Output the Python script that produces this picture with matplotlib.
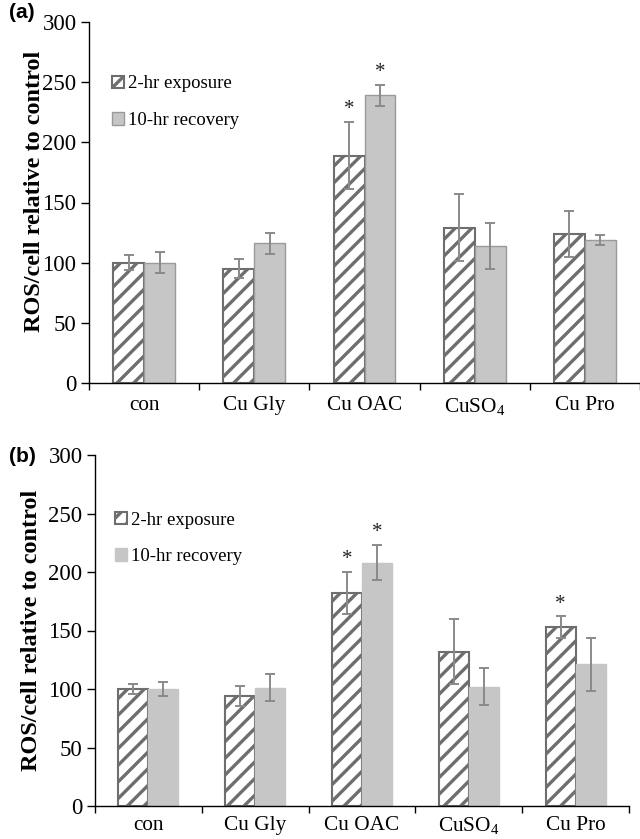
import matplotlib
matplotlib.use("Agg")
import matplotlib.pyplot as plt
import numpy as np

categories = ["con", "Cu Gly", "Cu OAC", "CuSO$_\\mathrm{4}$", "Cu Pro"]
series_names = ["2-hr exposure", "10-hr recovery"]

# Panel (a)
a_exp = [100, 95, 189, 129, 124]
a_exp_err = [6, 8, 28, 28, 19]
a_rec = [100, 116, 239, 114, 119]
a_rec_err = [9, 8.5, 9, 19, 4]
a_exp_sig = [False, False, True, False, False]
a_rec_sig = [False, False, True, False, False]

# Panel (b)
b_exp = [100, 94, 182, 132, 153]
b_exp_err = [4.5, 8.5, 18, 28, 9]
b_rec = [100, 101, 208, 102, 121]
b_rec_err = [6, 11.5, 15, 16, 23]
b_exp_sig = [False, False, True, False, True]
b_rec_sig = [False, False, True, False, False]

yticks = [0, 50, 100, 150, 200, 250, 300]
ylabel = "ROS/cell relative to control"

plt.rcParams['font.family'] = ['Liberation Serif', 'DejaVu Serif']
plt.rcParams['mathtext.fontset'] = 'custom'
plt.rcParams['mathtext.rm'] = 'Liberation Serif'
plt.rcParams['hatch.linewidth'] = 2.4

HATCH_C = '#6e6e6e'
GRAY_FILL = '#c6c6c6'
ERR_C = '#8a8a8a'

W, H = 640, 839
fig = plt.figure(figsize=(W / 100, H / 100), dpi=100)


def draw_panel(rect, exp, exp_err, rec, rec_err, exp_sig, rec_sig, gray_edge,
               label, label_xy, ylab_coords, leg_anchor, xpad):
    ax = fig.add_axes(rect)
    x = np.arange(len(categories))
    w = 0.28
    ax.bar(x - w / 2, exp, w, color='white', edgecolor=HATCH_C, hatch='//',
           linewidth=1.5, label=series_names[0], zorder=2)
    ax.bar(x + w / 2, rec, w, color=GRAY_FILL, edgecolor=gray_edge,
           linewidth=1.0, label=series_names[1], zorder=2)
    ax.errorbar(x - w / 2, exp, yerr=exp_err, fmt='none', ecolor=ERR_C,
                elinewidth=1.4, capsize=3.3, capthick=1.4, zorder=3)
    ax.errorbar(x + w / 2, rec, yerr=rec_err, fmt='none', ecolor=ERR_C,
                elinewidth=1.4, capsize=3.3, capthick=1.4, zorder=3)
    for i in range(len(categories)):
        if exp_sig[i]:
            ax.annotate('*', (x[i] - w / 2, exp[i] + exp_err[i]),
                        xytext=(0, 2), textcoords='offset points',
                        ha='center', va='bottom', fontsize=15, color='#222222')
        if rec_sig[i]:
            ax.annotate('*', (x[i] + w / 2, rec[i] + rec_err[i]),
                        xytext=(0, 2), textcoords='offset points',
                        ha='center', va='bottom', fontsize=15, color='#222222')
    ax.set_xlim(-0.5, len(categories) - 0.5)
    ax.set_ylim(0, 300)
    ax.set_yticks(yticks)
    ax.tick_params(axis='y', labelsize=16.5, length=6, width=1, pad=3,
                   direction='out')
    ax.set_xticks(np.arange(len(categories) + 1) - 0.5)
    ax.set_xticklabels([''] * (len(categories) + 1))
    ax.set_xticks(x, minor=True)
    ax.set_xticklabels(categories, minor=True)
    ax.tick_params(axis='x', which='major', length=5, width=1, direction='out')
    ax.tick_params(axis='x', which='minor', length=0, labelsize=15.3, pad=xpad)
    for s in ['top', 'right']:
        ax.spines[s].set_visible(False)
    ax.spines['left'].set_linewidth(1)
    ax.spines['bottom'].set_linewidth(1)
    ax.set_ylabel(ylabel, fontsize=17.5, fontweight='bold')
    ax.yaxis.set_label_coords(*ylab_coords)
    ax.legend(loc='upper left', bbox_to_anchor=leg_anchor, frameon=False,
              fontsize=13.5, handlelength=0.65, handleheight=0.65,
              handletextpad=0.2, labelspacing=1.05, borderpad=0,
              borderaxespad=0)
    fig.text(label_xy[0] / W, 1 - label_xy[1] / H, label, fontsize=15,
             fontweight='bold', family='Liberation Sans', ha='left',
             va='center')
    return ax


# axes rectangles from pixel positions
a_rect = [89 / W, 1 - 383 / H, (640 - 89) / W, 361 / H]
b_rect = [95 / W, 1 - 806 / H, (629 - 95) / W, 351 / H]

draw_panel(a_rect, a_exp, a_exp_err, a_rec, a_rec_err, a_exp_sig, a_rec_sig,
           '#9a9a9a', '(a)', (9, 13), (-0.08, 0.53), (0.042, 0.852), 9.5)
draw_panel(b_rect, b_exp, b_exp_err, b_rec, b_rec_err, b_exp_sig, b_rec_sig,
           GRAY_FILL, '(b)', (9, 456), (-0.1, 0.5), (0.037, 0.839), 7)

fig.savefig('out.png', dpi=100)
